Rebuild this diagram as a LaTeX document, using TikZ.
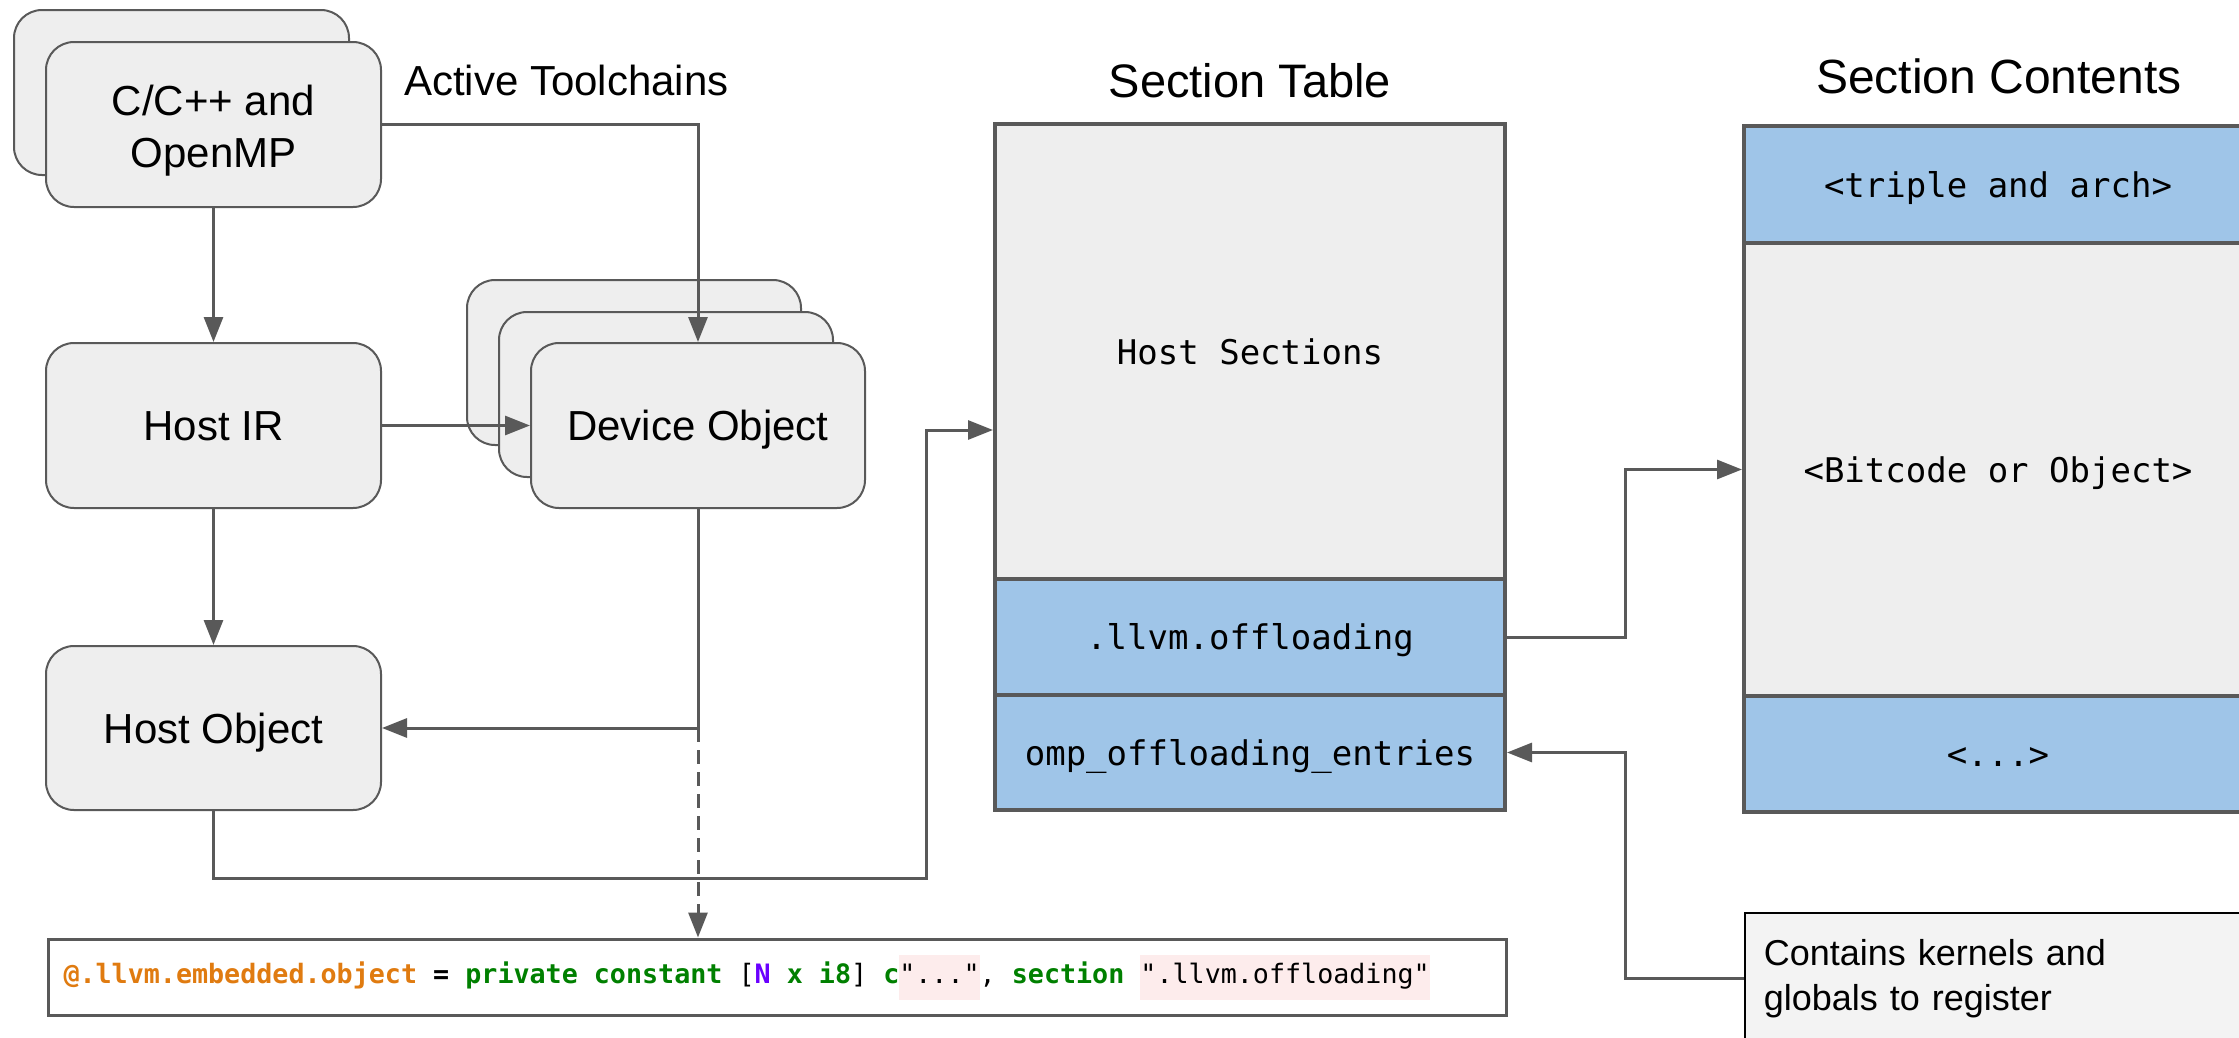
\documentclass[tikz,border=0pt]{standalone}
\usepackage{fontspec}
\setmainfont{Liberation Sans}
\newfontfamily\codefont{DejaVu Sans Mono}
\usetikzlibrary{arrows.meta}
\definecolor{boxgray}{HTML}{EEEEEE}
\definecolor{edgegray}{HTML}{595959}
\definecolor{secblue}{HTML}{9FC5E8}
\definecolor{notegray}{HTML}{F3F3F3}
\definecolor{codeorange}{HTML}{E07B10}
\definecolor{codegreen}{HTML}{008000}
\definecolor{codepurple}{HTML}{6A00FF}
\definecolor{codepink}{HTML}{FDECEC}
\newcommand\hlstr[1]{{\setlength{\fboxsep}{0pt}\colorbox{codepink}{\rule[-16pt]{0pt}{45pt}#1}}}
\newcommand\csp{\hspace*{16.07pt}}
\begin{document}
\begin{tikzpicture}[x=1pt,y=-1pt,
  procbox/.style={draw=edgegray, line width=2pt, fill=boxgray, rounded corners=28pt,
    minimum width=335pt, minimum height=165pt, inner sep=0pt,
    font=\fontsize{42}{52}\selectfont, align=center},
  onelabel/.style={text height=30pt, text depth=0pt},
  cell/.style={draw=edgegray, line width=4pt, minimum width=510pt, inner sep=0pt,
    font=\codefont\fontsize{34}{40}\selectfont, text height=25pt, text depth=0pt},
  title/.style={inner sep=0pt, text depth=0pt},
  conn/.style={draw=edgegray, line width=3pt, -{Triangle[length=25pt,width=19pt]}}
]
\useasboundingbox (0,0) rectangle (2239,1037);
\clip (0,0) rectangle (2239,1037);

% left column
\node[procbox] (cppback) at (181.5,92.5) {};
\node[procbox] (cpp) at (213.5,124.5) {\rule{0pt}{42pt}C/C++ and\\OpenMP};
\node[procbox, onelabel] (hostir) at (213.5,425.5) {Host IR};
\node[procbox, onelabel, minimum height=164pt] (hostobj) at (213.5,728) {Host Object};

% device objects
\node[procbox, minimum width=334pt] (devb) at (634,362.5) {};
\node[procbox, minimum width=334pt] (devm) at (666,394.5) {};
\node[procbox, onelabel, minimum width=334pt] (devf) at (698,425.5) {Device Object};

\node[title, anchor=west, font=\fontsize{42}{50}\selectfont, text height=30pt] (toolch) at (404,80) {Active Toolchains};

% section table
\node[title, font=\fontsize{47}{56}\selectfont, text height=34pt] (sectitle) at (1250,80) {Section Table};
\node[cell, fill=boxgray, minimum height=455pt] (hostsec) at (1250,351.5) {Host Sections};
\node[cell, fill=secblue, minimum height=116pt] (llvmoff) at (1250,637) {.llvm.offloading};
\node[cell, fill=secblue, minimum height=115pt] (ompent) at (1250,752.5) {omp\_offloading\_entries};

% section contents
\node[title, font=\fontsize{48}{56}\selectfont, text height=34pt] (contitle) at (1999,76) {Section Contents};
\node[cell, fill=secblue, minimum width=508pt, minimum height=117pt] (triple) at (1998,184.5) {<triple and arch>};
\node[cell, fill=boxgray, minimum width=508pt, minimum height=453pt] (bitcode) at (1998,469.5) {<Bitcode or Object>};
\node[cell, fill=secblue, minimum width=508pt, minimum height=116pt] (dots) at (1998,754) {<...>};

% note
\node[draw=black, line width=1.5pt, fill=notegray, anchor=north west, minimum height=132pt,
  text width=480pt, inner xsep=19pt, align=left, font=\fontsize{36}{45}\selectfont] (note) at (1744,912)
  {Contains kernels and\\globals to register};

% code line
\node[draw=edgegray, line width=3pt, fill=white, anchor=west, minimum height=76pt,
  inner xsep=15pt, inner ysep=0pt, font=\codefont\fontsize{26.7}{40}\selectfont] (code) at (47,977)
  {\makebox[1428pt][l]{\textbf{\color{codeorange}@.llvm.embedded.object}\csp\textbf{=}\csp\textbf{\color{codegreen}private\csp constant}\csp[\textbf{\color{codepurple}N}\csp\textbf{\color{codegreen}x\csp i8}]\csp\textbf{\color{codegreen}c}\hlstr{"..."},\csp\textbf{\color{codegreen}section}\csp\hlstr{".llvm.offloading"}}};

% connectors
\coordinate (jn) at (devf.south |- hostobj.east);
\coordinate (bus) at (926,878);
\coordinate (hsin) at (hostsec.west |- 0,430);
\coordinate (midx) at (1625,0);

\draw[conn] (cpp.south) -- (hostir.north);
\draw[conn] (cpp.east) -| (devf.north);
\draw[conn] (hostir.east) -- (devf.west);
\draw[conn] (hostir.south) -- (hostobj.north);
\draw[conn] (devf.south) -- (jn) -- (hostobj.east);
\draw[conn, dash pattern=on 14pt off 8pt] (jn) -- (jn |- code.north);
\draw[conn] (hostobj.south) |- (bus) |- (hsin);
\draw[conn] (llvmoff.east) -- (llvmoff.east -| midx) |- (bitcode.west);
\draw[conn] (note.west) -- (note.west -| midx) |- (ompent.east);
\end{tikzpicture}
\end{document}
